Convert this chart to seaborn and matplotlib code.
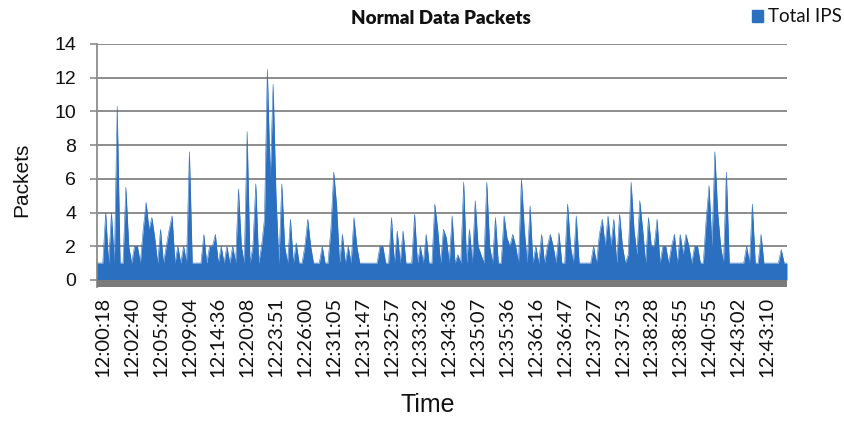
import numpy as np
import pandas as pd
import matplotlib
matplotlib.use("Agg")
import matplotlib.pyplot as plt
import seaborn as sns
from matplotlib.patches import Patch

# ---- data -------------------------------------------------------------
time_labels = ["12:00:18", "12:02:40", "12:05:40", "12:09:04", "12:14:36",
               "12:20:08", "12:23:51", "12:26:00", "12:31:05", "12:31:47",
               "12:32:57", "12:33:32", "12:34:36", "12:35:07", "12:35:36",
               "12:36:16", "12:36:47", "12:37:27", "12:37:53", "12:38:28",
               "12:38:55", "12:40:55", "12:43:02", "12:43:10"]

# Packets per sample (10 samples per labelled interval)
packets = [
    1, 1, 1, 4, 1, 4, 1, 10.3, 1, 1,
    5.5, 2, 1, 2, 2, 1, 3, 4.6, 3, 3.7,
    2.5, 1, 3, 1, 2, 3, 3.8, 1, 2, 1,
    2, 1, 7.6, 1, 1, 1, 1, 2.7, 1, 2,
    2, 2.7, 1, 2, 1, 2, 1, 2, 1, 5.4,
    2, 1, 8.8, 1, 2, 5.7, 1, 2, 3.6, 12.5,
    6, 11.6, 5, 1, 5.7, 2, 1, 3.6, 1, 2.2,
    1, 1, 2, 3.6, 2, 1, 1, 1, 2, 1,
    1, 3, 6.4, 4.4, 1, 2.7, 1, 2, 1, 3.7,
    2, 1, 1, 1, 1, 1, 1, 1, 2, 2,
    1, 1, 3.7, 1, 2.9, 1, 2.9, 1, 1, 1,
    3.9, 1, 2, 1, 2.7, 1, 1, 4.5, 3, 1,
    3, 2.5, 1, 3.8, 1, 1.5, 1, 5.8, 1, 3,
    1, 4.7, 2, 1.5, 1, 5.8, 2, 1, 3.7, 1,
    1, 3.8, 2.5, 2, 2.7, 2, 1, 6, 3, 1,
    4.4, 1, 2, 1, 2.7, 1, 2, 2.7, 2, 1,
    2.8, 1, 1, 4.5, 2, 1, 3.8, 1, 1, 1,
    1, 1, 2, 1, 2.7, 3.6, 2, 3.8, 2, 3.6,
    1, 3.9, 2, 1, 1.5, 5.8, 3, 1.5, 4.7, 3,
    1, 3.7, 2, 2, 3.6, 1, 2, 2, 1, 2,
    2.7, 1, 2.7, 1.5, 2.7, 2, 1, 2, 2, 1,
    1, 3.6, 5.6, 2, 7.6, 4, 2, 1, 6.4, 1,
    1, 1, 1, 1, 1, 2, 1, 4.5, 1, 1,
    2.7, 1, 1, 1, 1, 1, 1, 1.8, 1, 1,
]
label_every = 10
label_offset = 2
series_name = "Total IPS"

# ---- style ------------------------------------------------------------
BLUE = "#2b6fc0"
GRID = "#8c8c8c"
FLOOR = "#7b7b7b"
TEXT = "#111111"

sns.set_theme(style="white")
plt.rcParams["font.family"] = ["Liberation Sans", "DejaVu Sans"]
plt.rcParams["text.color"] = TEXT

fig, ax = plt.subplots(figsize=(8.44, 4.25), dpi=100)
fig.subplots_adjust(left=97/844, right=787/844, top=1-44/425, bottom=1-287/425)

df = pd.DataFrame({"idx": np.arange(len(packets)), "packets": packets})
sns.lineplot(data=df, x="idx", y="packets", ax=ax, color=BLUE, lw=0.4, zorder=3)
ax.fill_between(df["idx"], 0, df["packets"], color=BLUE, lw=0, zorder=3)

ax.set_xlim(0, len(packets) - 1)
ax.set_ylim(-0.42, 14)
ax.axhspan(-0.42, 0, color=FLOOR, lw=0, zorder=4)

ax.set_yticks(range(0, 15, 2))
ax.yaxis.grid(True, color=GRID, lw=1.4)
ax.set_axisbelow(True)
ax.tick_params(axis="y", which="major", left=True, length=5, width=1.2,
               color=GRID, pad=10, labelsize=14, labelcolor=TEXT)

tick_pos = [label_offset + label_every * k for k in range(len(time_labels))]
ax.set_xticks(tick_pos)
ax.set_xticklabels(time_labels, rotation=90, fontsize=14.5,
                   family=["Lato", "DejaVu Sans"], color=TEXT)
ax.tick_params(axis="x", length=0, pad=7)

for s in ["top", "right", "bottom"]:
    ax.spines[s].set_visible(False)
ax.spines["left"].set_color(GRID)
ax.spines["left"].set_linewidth(1.3)

ax.set_xlabel("")
ax.set_ylabel("")

fig.text(22/844, 1-180/425, "Packets", rotation=90, ha="center", va="center", fontsize=15)
fig.text(428/844, 1-405/425, "Time", ha="center", va="center", fontsize=18)
fig.text(441/844, 1-18/425, "Normal Data Packets", ha="center", va="center",
         fontsize=13.5, fontweight="heavy", family=["Lato", "DejaVu Sans"])

fig.legend(handles=[Patch(color=BLUE)], labels=[series_name], loc="center right",
           bbox_to_anchor=(0.998, 1-17/425), frameon=False, handlelength=0.6,
           handleheight=0.6, handletextpad=0.3, borderaxespad=0, borderpad=0,
           prop={"family": ["Lato", "DejaVu Sans"], "size": 13.5})

fig.savefig("out.png", dpi=100)
